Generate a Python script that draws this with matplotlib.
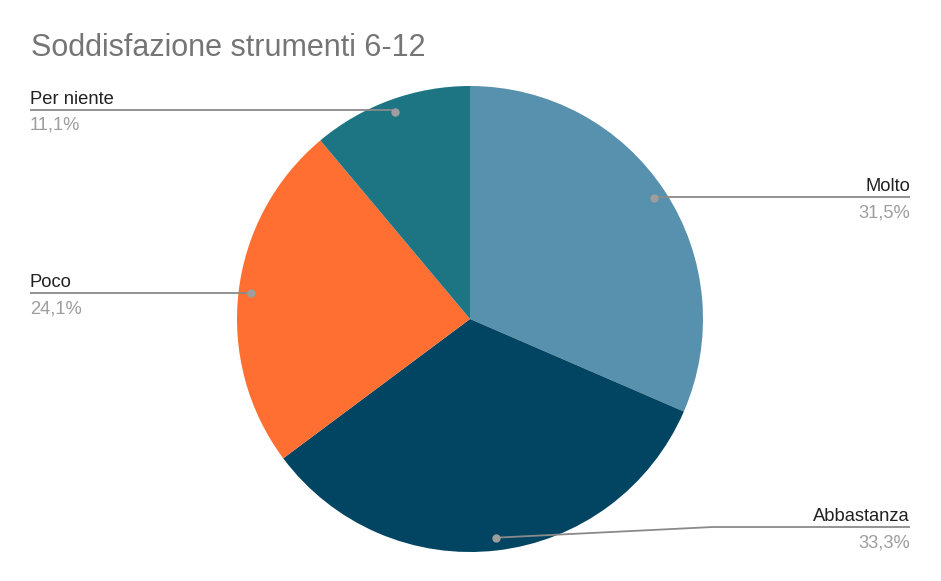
import numpy as np
import matplotlib
matplotlib.use("Agg")
import matplotlib.pyplot as plt

# data
labels = ["Molto", "Abbastanza", "Poco", "Per niente"]
values = [31.5, 33.3, 24.1, 11.1]
pct_text = ["31,5%", "33,3%", "24,1%", "11,1%"]
colors = ["#5891ae", "#014562", "#ff6f32", "#1d7584"]

W, H = 941, 581
plt.rcParams["font.family"] = ["Liberation Sans", "DejaVu Sans"]
fig = plt.figure(figsize=(W/100, H/100), dpi=100)
ax = fig.add_axes([0, 0, 1, 1])
ax.set_xlim(0, W); ax.set_ylim(0, H); ax.set_aspect("equal"); ax.axis("off")

cx, cy, R = 470, H - 319, 233
wedges, _ = ax.pie(values, colors=colors, startangle=90, counterclock=False,
                   center=(cx, cy), radius=R, frame=True,
                   wedgeprops=dict(linewidth=0))
ax.set_xlim(0, W); ax.set_ylim(0, H); ax.axis("off")

fig.text(31/W, 1 - 48/H, "Soddisfazione strumenti 6-12", fontsize=22,
         color="#757575", va="center", ha="left")

# label layout: (side, line y in px, elbow x or None)
layout = {"Molto": ("right", 197, None), "Abbastanza": ("right", 527, 713),
          "Poco": ("left", 293, None), "Per niente": ("left", 110, None)}
lc = "#8a8a8a"
for w, lab, pt in zip(wedges, labels, pct_text):
    mid = np.deg2rad(0.5*(w.theta1 + w.theta2))
    dx, dy = cx + 0.945*R*np.cos(mid), cy + 0.945*R*np.sin(mid)
    side, ly, elbow = layout[lab]
    ly = H - ly
    xe = 910 if side == "right" else 30
    if elbow is not None:
        xs, ys = [dx, elbow, xe], [dy, ly, ly]
    else:
        xs, ys = [dx, xe], [ly, ly]
    ax.plot(xs, ys, color=lc, lw=1.3, solid_capstyle="butt", zorder=3)
    ax.plot(dx, dy, "o", color="#9e9e9e", ms=5, zorder=4)
    ha = "right" if side == "right" else "left"
    ax.text(xe, ly + 2, lab, ha=ha, va="bottom", fontsize=13.2, color="#212121")
    ax.text(xe, ly - 7, pt, ha=ha, va="top", fontsize=13.2, color="#9e9e9e")

fig.savefig("out.png", dpi=100, facecolor="white")
